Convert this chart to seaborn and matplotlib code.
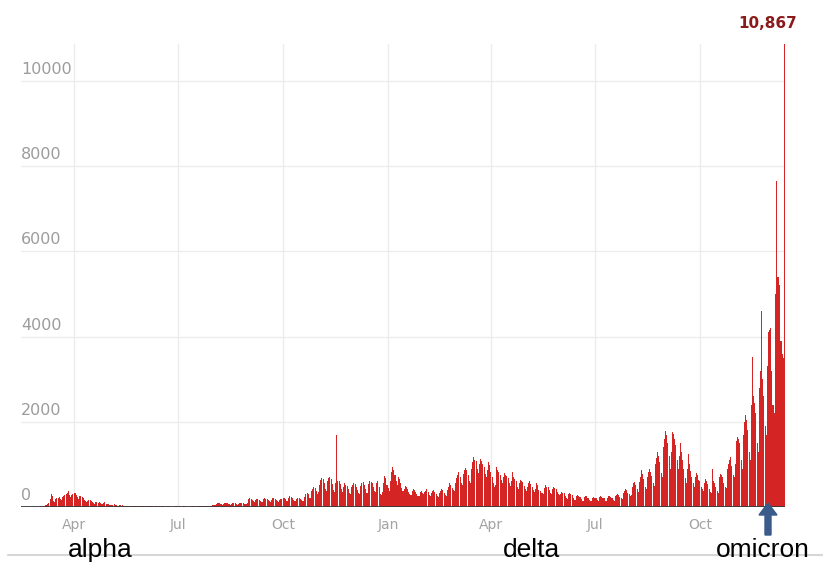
import numpy as np
import pandas as pd
import matplotlib
matplotlib.use("Agg")
import matplotlib.pyplot as plt
import seaborn as sns
from matplotlib.lines import Line2D

# ---- data: daily new cases ----
start_date = "2020-02-26"
feb_2020 = [1, 2, 3, 5]
mar_2020 = [5, 8, 12, 15, 25, 30, 40, 45, 60, 90, 180, 310, 250, 140, 120, 180, 200, 210, 230, 190,
            160, 240, 260, 280, 300, 330, 380, 290, 240, 280, 300]
apr_2020 = [320, 330, 290, 230, 180, 260, 250, 240, 200, 160, 140, 110, 150, 170, 160, 140, 120, 90, 80, 110,
            120, 100, 110, 90, 70, 60, 90, 110, 80, 70]
may_2020 = [60, 50, 45, 40, 55, 60, 50, 45, 35, 30, 40, 45, 40, 35, 30, 25, 20, 30, 35, 30,
            28, 25, 20, 18, 25, 30, 28, 22, 20, 15, 18]
jun_2020 = [15, 20, 25, 22, 18, 14, 12, 18, 20, 16, 15, 12, 10, 9, 14, 18, 15, 12, 10, 8,
            9, 12, 14, 13, 11, 9, 8, 10, 13, 12]
jul_2020 = [10, 12, 11, 8, 7, 12, 14, 13, 11, 9, 8, 10, 15, 14, 12, 10, 9, 11, 15, 18,
            16, 14, 12, 15, 20, 25, 22, 18, 30, 35, 40]
aug_2020 = [55, 45, 40, 70, 85, 90, 80, 60, 50, 75, 85, 90, 95, 70, 60, 55, 80, 90, 95, 85,
            70, 55, 60, 85, 100, 95, 90, 70, 60, 65, 95]
sep_2020 = [180, 200, 190, 160, 130, 120, 170, 190, 180, 170, 150, 120, 110, 180, 200, 190, 185, 160, 130, 120,
            170, 200, 210, 190, 170, 130, 120, 160, 180, 190]
oct_2020 = [200, 210, 180, 150, 140, 220, 250, 240, 210, 170, 140, 130, 190, 210, 200, 190, 160, 130, 150, 240,
            300, 330, 310, 220, 200, 380, 420, 480, 450, 380, 300]
nov_2020 = [350, 520, 640, 690, 650, 560, 420, 380, 600, 680, 700, 650, 540, 400, 360, 560, 1700, 620, 600, 540,
            420, 350, 480, 560, 520, 500, 430, 330, 300, 460]
dec_2020 = [520, 560, 540, 480, 400, 330, 300, 500, 560, 580, 520, 420, 340, 320, 540, 600, 590, 560, 460, 380,
            350, 560, 620, 480, 300, 280, 350, 560, 720, 680, 520]
jan_2021 = [450, 380, 600, 820, 950, 880, 760, 620, 520, 700, 650, 560, 450, 380, 420, 500, 480, 430, 360, 300,
            280, 380, 420, 400, 360, 300, 260, 250, 350, 380, 340]
feb_2021 = [300, 360, 380, 420, 360, 290, 260, 330, 380, 400, 350, 300, 260, 240, 330, 380, 420, 390, 330, 280,
            260, 400, 480, 560, 520, 450, 400, 380]
mar_2021 = [560, 680, 760, 820, 700, 560, 520, 780, 880, 920, 860, 740, 600, 560, 900, 1050, 1170, 1100, 1080, 900,
            800, 1000, 1120, 1090, 1020, 940, 780, 700, 880, 1060, 980]
apr_2021 = [820, 700, 560, 480, 520, 940, 880, 820, 760, 640, 560, 700, 800, 760, 720, 680, 560, 500, 620, 820,
            700, 660, 600, 480, 420, 560, 640, 620, 580, 500]
may_2021 = [420, 380, 480, 560, 600, 540, 480, 400, 360, 420, 560, 520, 400, 380, 340, 320, 300, 440, 520, 480,
            460, 400, 320, 300, 420, 460, 440, 420, 360, 300, 280]
jun_2021 = [300, 360, 340, 320, 260, 200, 180, 300, 340, 310, 280, 220, 170, 160, 260, 280, 260, 240, 180, 150,
            140, 230, 260, 250, 220, 170, 140, 130, 210, 240]
jul_2021 = [220, 200, 160, 140, 230, 260, 240, 220, 200, 150, 130, 220, 250, 260, 240, 200, 160, 140, 250, 280,
            300, 290, 240, 200, 180, 320, 380, 420, 400, 330, 300]
aug_2021 = [260, 280, 480, 560, 580, 520, 420, 360, 580, 700, 880, 780, 660, 480, 420, 700, 820, 900, 820, 720,
            560, 500, 1000, 1150, 1300, 1200, 1050, 800, 700, 1400, 1600]
sep_2021 = [1790, 1700, 1500, 1200, 900, 1300, 1750, 1720, 1600, 1450, 1100, 900, 1200, 1500, 1300, 1100, 900, 680, 560, 900,
            1250, 1000, 850, 700, 560, 480, 700, 800, 760, 640]
oct_2021 = [600, 480, 420, 380, 560, 650, 600, 540, 420, 360, 330, 900, 620, 560, 480, 380, 320, 700, 780, 760,
            700, 560, 480, 440, 900, 1000, 1100, 1180, 960, 760, 700]
nov_2021 = [1000, 1550, 1650, 1600, 1500, 1100, 900, 1700, 2000, 2160, 2050, 1800, 1300, 1100, 2400, 3530, 2600, 2430, 2200, 1500,
            1300, 2800, 3200, 4590, 3000, 2600, 1900, 1700, 3300, 4100]
dec_2021 = [4150, 4190, 3200, 2400, 2200, 5000, 7640, 5400, 5410, 5200, 3900, 3600, 3500, 10867]

months = [feb_2020, mar_2020, apr_2020, may_2020, jun_2020, jul_2020, aug_2020, sep_2020, oct_2020,
          nov_2020, dec_2020, jan_2021, feb_2021, mar_2021, apr_2021, may_2021, jun_2021, jul_2021,
          aug_2021, sep_2021, oct_2021, nov_2021, dec_2021]

tick_dates = ["2020-04-01", "2020-07-01", "2020-10-01", "2021-01-01", "2021-04-01", "2021-07-01", "2021-10-01"]
tick_labels = ["Apr", "Jul", "Oct", "Jan", "Apr", "Jul", "Oct"]
y_ticks = [0, 2000, 4000, 6000, 8000, 10000]
variant_labels = ["alpha", "delta", "omicron"]

cases = [v for m in months for v in m]
dates = pd.date_range(start_date, periods=len(cases), freq="D")
df = pd.DataFrame({"day": np.arange(len(cases)), "date": dates, "cases": cases})

# ---- figure ----
sns.set_theme(style="white")
fig = plt.figure(figsize=(8.23, 5.65), dpi=100)
ax = fig.add_axes([21 / 823, 1 - 507 / 565, (785 - 21) / 823, (507 - 44) / 565])

sns.barplot(data=df, x="day", y="cases", native_scale=True, color="#d42424",
            width=0.9, linewidth=0, saturation=1, ax=ax)

ax.set_ylim(0, max(cases))
left_pad = 11
ax.set_xlim(-left_pad - 0.5, len(cases) - 0.5)

for s in ax.spines.values():
    s.set_visible(False)

tick_idx = [(pd.Timestamp(d) - dates[0]).days for d in tick_dates]
ax.set_xticks(tick_idx)
ax.set_xticklabels(tick_labels, color="#a3a3a3", fontsize=10)
ax.tick_params(axis="x", length=0, pad=8)
ax.set_yticks(y_ticks)
ax.set_yticklabels([])
ax.tick_params(axis="y", length=0)
ax.set_xlabel("")
ax.set_ylabel("")
ax.grid(True, color="#ececec", linewidth=1)
ax.set_axisbelow(True)
ax.axhline(0, color="#3a3a3a", linewidth=1.3, zorder=5)

for v in y_ticks:
    ax.annotate(f"{v}", xy=(0, v), xycoords=("axes fraction", "data"),
                xytext=(0, 4), textcoords="offset pixels", ha="left", va="bottom",
                color="#9c9c9c", fontsize=11.5)

# max label
imax = int(np.argmax(cases))
ax.annotate(f"{max(cases):,}", xy=(imax, max(cases)), xytext=(13, 13), textcoords="offset pixels",
            ha="right", va="bottom", color="#8b1a1a", fontsize=11, fontweight="bold",
            annotation_clip=False)

# bottom rule
fig.add_artist(Line2D([8 / 823, 1.0], [1 - 555 / 565, 1 - 555 / 565], color="#d6d6d6", linewidth=1.5))

# variant labels
label_x = [68, 503, 716]
for lab, px in zip(variant_labels, label_x):
    fig.text(px / 823, 1 - 557 / 565, lab, fontsize=19, color="black", family="Liberation Sans",
             ha="left", va="baseline")

# omicron arrow
fig.add_artist(matplotlib.patches.FancyArrow(768 / 823, 1 - 535 / 565, 0, (535 - 503) / 565,
                                             width=6 / 823, head_width=18 / 823, head_length=12 / 565,
                                             length_includes_head=True, color="#3b5b8a",
                                             transform=fig.transFigure))

fig.savefig("out.png", dpi=100)
